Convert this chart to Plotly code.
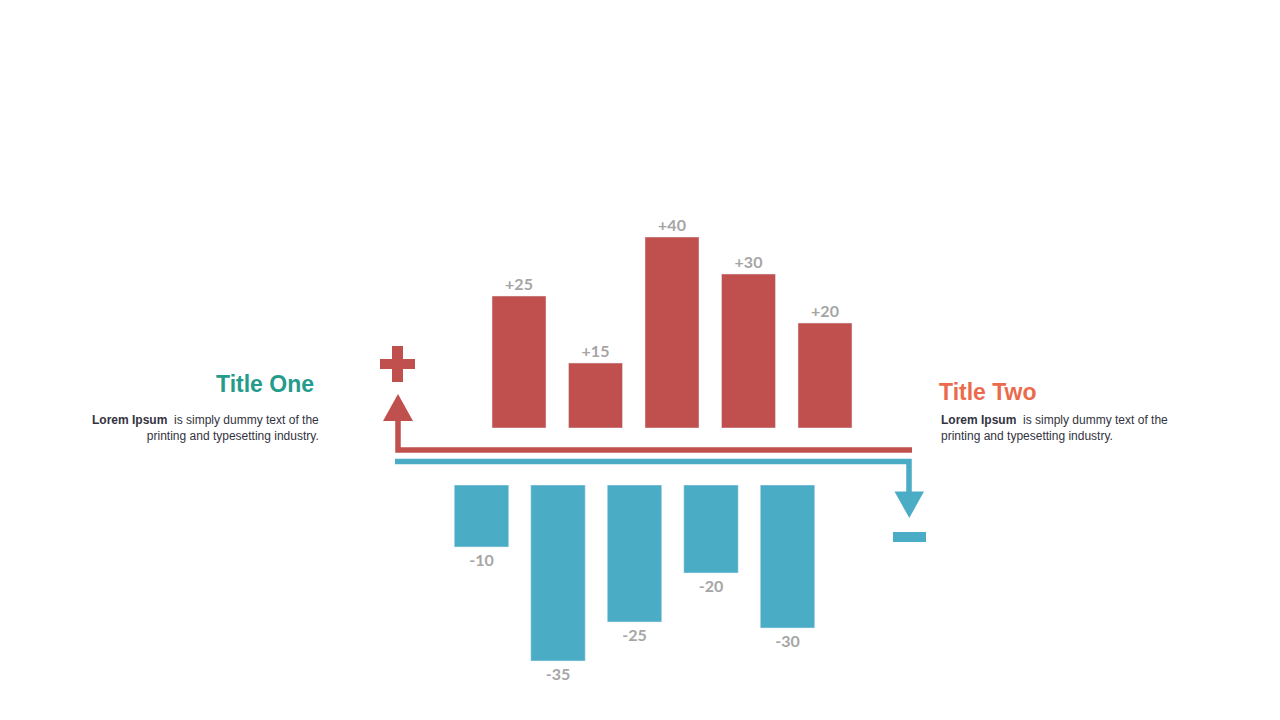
import plotly.graph_objects as go

# bar values (bar heights, in chart units) and their labels
gain_labels = ["+25", "+15", "+40", "+30", "+20"]
gain_values = [26.4, 13.0, 38.2, 30.8, 21.0]

loss_labels = ["-10", "-35", "-25", "-20", "-30"]
loss_values = [-12.4, -35.2, -27.4, -17.6, -28.6]

W, H = 1280, 720
RED = "#C0504D"
BLUE = "#4BACC6"
GREY = "#A5A5A5"


def px(x):
    return x / W


def py(y):
    return 1 - y / H


fig = go.Figure()

# positive bars (top panel)
fig.add_trace(go.Bar(
    x=list(range(len(gain_values))), y=gain_values,
    text=gain_labels, textposition="outside",
    textfont=dict(family="Lato", size=16, color=GREY, weight="bold"),
    marker_color=RED, width=0.706,
    xaxis="x", yaxis="y", cliponaxis=False, hoverinfo="skip",
))

# negative bars (bottom panel)
fig.add_trace(go.Bar(
    x=list(range(len(loss_values))), y=loss_values,
    text=loss_labels, textposition="outside",
    textfont=dict(family="Lato", size=16, color=GREY, weight="bold"),
    marker_color=BLUE, width=0.712,
    xaxis="x2", yaxis="y2", cliponaxis=False, hoverinfo="skip",
))

step = 76.5
shapes = [
    # red connector with arrow up
    dict(type="path", xref="paper", yref="paper",
         path=f"M {px(398)} {py(420)} L {px(398)} {py(450)} L {px(912)} {py(450)}",
         line=dict(color=RED, width=5.5)),
    dict(type="path", xref="paper", yref="paper",
         path=f"M {px(383)} {py(421)} L {px(413)} {py(421)} L {px(398)} {py(394)} Z",
         fillcolor=RED, line=dict(width=0)),
    # plus sign
    dict(type="rect", xref="paper", yref="paper", x0=px(392), x1=px(403), y0=py(382), y1=py(346),
         fillcolor=RED, line=dict(width=0)),
    dict(type="rect", xref="paper", yref="paper", x0=px(380), x1=px(415), y0=py(369), y1=py(359),
         fillcolor=RED, line=dict(width=0)),
    # blue connector with arrow down
    dict(type="path", xref="paper", yref="paper",
         path=f"M {px(395)} {py(461.5)} L {px(909)} {py(461.5)} L {px(909)} {py(493)}",
         line=dict(color=BLUE, width=5.5)),
    dict(type="path", xref="paper", yref="paper",
         path=f"M {px(894.5)} {py(491.5)} L {px(924)} {py(491.5)} L {px(909.3)} {py(518)} Z",
         fillcolor=BLUE, line=dict(width=0)),
    # minus sign
    dict(type="rect", xref="paper", yref="paper", x0=px(893), x1=px(926), y0=py(542), y1=py(532),
         fillcolor=BLUE, line=dict(width=0)),
]

body = "<b>Lorem Ipsum</b>  is simply dummy text of the<br>printing and typesetting industry."
annotations = [
    dict(text="<b>Title One</b>", x=px(316), y=py(384), xanchor="right", yanchor="middle",
         font=dict(family="Liberation Sans", size=23, color="#249B8B")),
    dict(text=body, x=px(321), y=py(428), xanchor="right", yanchor="middle", align="right",
         font=dict(family="Liberation Sans", size=12, color="#333340")),
    dict(text="<b>Title Two</b>", x=px(937), y=py(392), xanchor="left", yanchor="middle",
         font=dict(family="Liberation Sans", size=23, color="#EB6A4B")),
    dict(text=body, x=px(939), y=py(428), xanchor="left", yanchor="middle", align="left",
         font=dict(family="Liberation Sans", size=12, color="#333340")),
]
for a in annotations:
    a.update(xref="paper", yref="paper", showarrow=False)

fig.update_layout(
    width=W, height=H,
    margin=dict(l=0, r=0, t=0, b=0),
    paper_bgcolor="white", plot_bgcolor="rgba(0,0,0,0)",
    showlegend=False,
    xaxis=dict(domain=[0, 1], range=[-519 / step, (W - 519) / step], visible=False, anchor="y"),
    yaxis=dict(domain=[py(428), 1], range=[0, 428 / 5], visible=False, anchor="x"),
    xaxis2=dict(domain=[0, 1], range=[-481.5 / step, (W - 481.5) / step], visible=False, anchor="y2"),
    yaxis2=dict(domain=[0, py(485)], range=[-(H - 485) / 5, 0], visible=False, anchor="x2"),
    shapes=shapes,
    annotations=annotations,
)

# drop the default page margin so the figure sits at the window's corner
fig.write_html("out.html", config={"displayModeBar": False},
               post_script="document.body.style.margin='0';")
